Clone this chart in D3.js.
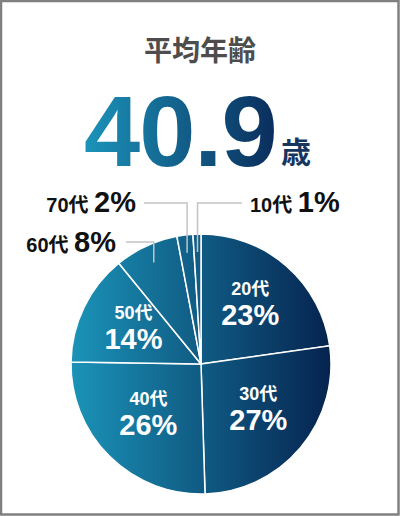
<!DOCTYPE html>
<html>
<head>
<meta charset="utf-8">
<script src="https://cdn.jsdelivr.net/npm/d3@7"></script>
<style>
  body { margin: 0; background: #fff; }
  text { font-family: "Liberation Sans", Arial, "Noto Sans CJK JP", sans-serif; font-weight: bold; }
</style>
</head>
<body>
<svg id="chart"></svg>
<script>
// age groups, in clockwise order from 12 o'clock
const ages = ["20代", "30代", "40代", "50代", "60代", "70代", "10代"];
const shares = [23, 27, 26, 14, 8, 2, 1];
// small slices get an outside label with a leader line
const outside = ["60代", "70代", "10代"];
const avgAge = "40.9";

const width = 400, height = 516;
const cx = 201, cy = 364, radius = 130;

const svg = d3.select("#chart")
  .attr("width", width)
  .attr("height", height);

const defs = svg.append("defs");

// gradient is in user space of the translated pie group
const pieGrad = defs.append("linearGradient")
  .attr("id", "pieGrad")
  .attr("gradientUnits", "userSpaceOnUse")
  .attr("x1", -radius).attr("x2", radius)
  .attr("y1", 0).attr("y2", 0);
pieGrad.append("stop").attr("offset", "0%").attr("stop-color", "#1b93b8");
pieGrad.append("stop").attr("offset", "100%").attr("stop-color", "#05234f");

const numGrad = defs.append("linearGradient")
  .attr("id", "numGrad")
  .attr("gradientUnits", "userSpaceOnUse")
  .attr("x1", 87).attr("x2", 278)
  .attr("y1", 0).attr("y2", 0);
numGrad.append("stop").attr("offset", "0%").attr("stop-color", "#1b92b8");
numGrad.append("stop").attr("offset", "100%").attr("stop-color", "#0a2c5b");

// frame
svg.append("rect")
  .attr("x", 1).attr("y", 1)
  .attr("width", width - 2.5).attr("height", height - 2.5)
  .attr("fill", "none")
  .attr("stroke", "#808080")
  .attr("stroke-width", 2.5);

// heading
svg.append("text")
  .attr("x", 200).attr("y", 61)
  .attr("text-anchor", "middle")
  .attr("fill", "#4d4d4d")
  .style("font-family", "'Noto Sans CJK JP', sans-serif")
  .style("font-size", "28px")
  .text("平均年齢");

svg.append("text")
  .attr("x", 84).attr("y", 166)
  .attr("fill", "url(#numGrad)")
  .style("font-size", "101px")
  .style("letter-spacing", "-1px")
  .text(avgAge);

svg.append("text")
  .attr("x", 281).attr("y", 163)
  .attr("fill", "#16365f")
  .style("font-family", "'Noto Sans CJK JP', sans-serif")
  .style("font-size", "30px")
  .text("歳");

// pie
const pie = d3.pie().sort(null).value(d => d.v);
const arcs = pie(ages.map((a, i) => ({ age: a, v: shares[i] })));

const arc = d3.arc().innerRadius(0).outerRadius(radius);
const labelArc = d3.arc().innerRadius(75).outerRadius(75);
const leaderArc = d3.arc().innerRadius(112).outerRadius(112);

const g = svg.append("g")
  .attr("transform", "translate(" + cx + "," + cy + ")");

g.selectAll("path")
  .data(arcs)
  .enter()
  .append("path")
  .attr("d", arc)
  .attr("fill", "url(#pieGrad)")
  .attr("stroke", "#fff")
  .attr("stroke-width", 1.5);

// inside labels
const inner = arcs.filter(d => !outside.includes(d.data.age));
inner.forEach(d => {
  const [x, y] = labelArc.centroid(d);
  g.append("text")
    .attr("x", x).attr("y", y - 12)
    .attr("text-anchor", "middle")
    .attr("fill", "#fff")
    .style("font-size", "18px")
    .text(d.data.age);
  g.append("text")
    .attr("x", x).attr("y", y + 18)
    .attr("text-anchor", "middle")
    .attr("fill", "#fff")
    .style("font-size", "29px")
    .text(d.data.v + "%");
});

// outside labels: where the text sits and which side the leader runs to
const outPos = {
  "70代": { ly: 203, lx: 144, tx: 136, anchor: "end", ty: 212 },
  "60代": { ly: 242, lx: 126, tx: 116, anchor: "end", ty: 252 },
  "10代": { ly: 203, lx: 242, tx: 250, anchor: "start", ty: 212 }
};

arcs.filter(d => outside.includes(d.data.age)).forEach(d => {
  const p = outPos[d.data.age];
  const [ex, ey] = leaderArc.centroid(d);
  const pts = [[cx + ex, cy + ey], [cx + ex, p.ly], [p.lx, p.ly]];
  svg.append("path")
    .attr("d", d3.line()(pts))
    .attr("fill", "none")
    .attr("stroke", "#c4c4c4")
    .attr("stroke-width", 1.5);

  const t = svg.append("text")
    .attr("x", p.tx).attr("y", p.ty)
    .attr("text-anchor", p.anchor)
    .attr("fill", "#111");
  t.append("tspan")
    .style("font-size", "20px")
    .text(d.data.age + " ");
  t.append("tspan")
    .style("font-size", "29px")
    .text(d.data.v + "%");
});
</script>
</body>
</html>
